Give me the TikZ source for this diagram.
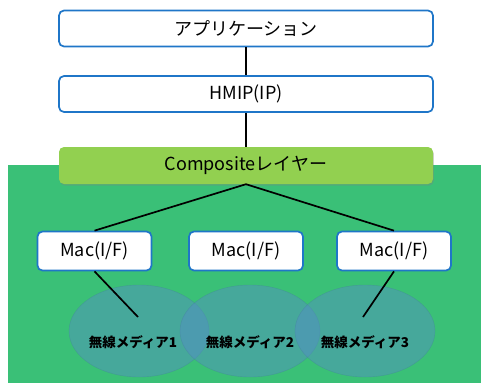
\documentclass[tikz,border=0pt]{standalone}
\usepackage{fontspec}
\setmainfont{Noto Sans CJK JP}
\usetikzlibrary{positioning, shadows, shapes.geometric}
\definecolor{cBorder}{RGB}{31,118,200}
\definecolor{cLime}{RGB}{146,208,80}
\definecolor{cField}{RGB}{58,192,119}
\definecolor{cMedia}{RGB}{85,140,200}
\tikzset{
	layer/.style  ={rectangle, rounded corners=5pt, draw=cBorder, line width=1.7pt, fill=white, minimum width=374pt, minimum height=36pt, align=center, font=\fontsize{18}{20}\selectfont},
	comp/.style   ={rectangle, rounded corners=5pt, fill=cLime, minimum width=374pt, minimum height=37pt, align=center, font=\fontsize{18}{20}\selectfont, drop shadow={shadow xshift=0.8pt, shadow yshift=-1.6pt, opacity=0.35}},
	mac/.style    ={rectangle, rounded corners=5pt, draw=cBorder, line width=1.7pt, fill=white, minimum width=114pt, minimum height=39pt, align=center, font=\fontsize{18}{20}\selectfont},
	media/.style  ={ellipse, fill=cMedia, fill opacity=0.45, draw=cMedia!80!black, draw opacity=0.35, minimum width=140pt, minimum height=92pt, inner sep=0pt},
	medtext/.style={font=\fontsize{13.5}{15}\selectfont\bfseries},
	wire/.style   ={line width=1.7pt, black},
}
\begin{document}
\begin{tikzpicture}[x=1pt, y=-1pt]
	\useasboundingbox (0,0) rectangle (481,386);
	% ---- field of the wireless side ----
	\fill[cField] (8,165) rectangle (481,383);
	% ---- upper stack ----
	\node[layer] (app)  at (246,28.5) {アプリケーション};
	\node[layer] (hmip) at (246,94)   {HMIP(IP)};
	\node[comp]  (comp) at (246,165.5) {Compositeレイヤー};
	\draw[wire] (app) -- (hmip);
	\draw[wire] (hmip) -- (comp);
	% ---- media areas ----
	\node[media] (med1) at (139,331) {};
	\node[media] (med2) at (250,331) {};
	\node[media] (med3) at (365,331) {};
	\node[medtext] at (133,342) {無線メディア1};
	\node[medtext] at (250,342) {無線メディア2};
	\node[medtext] at (365,342) {無線メディア3};
	% ---- interfaces ----
	\node[mac] (mac1) at (94.5,251) {Mac(I/F)};
	\node[mac] (mac2) at (246,251)  {Mac(I/F)};
	\node[mac] (mac3) at (394,251)  {Mac(I/F)};
	\coordinate (tip1) at (138,317);
	\coordinate (tip3) at (363,317);
	\draw[wire] (comp.south) -- (mac1.north);
	\draw[wire] (comp.south) -- (mac3.north);
	\draw[wire] (mac1.south) -- (tip1);
	\draw[wire] (mac3.south) -- (tip3);
\end{tikzpicture}
\end{document}
